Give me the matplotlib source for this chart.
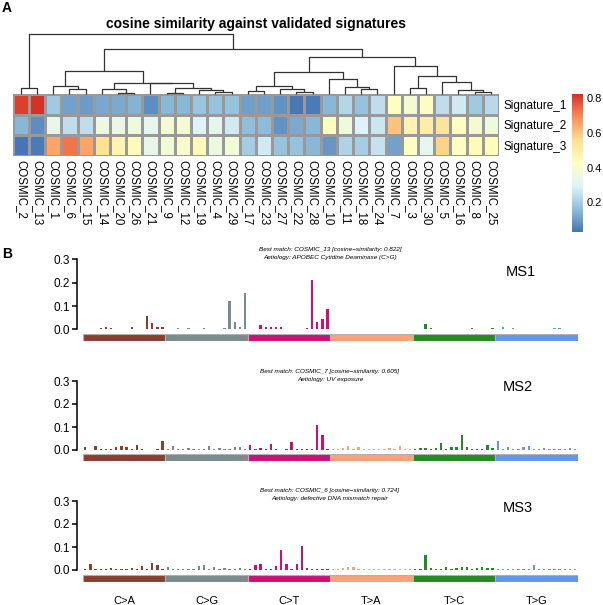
import numpy as np
import matplotlib
matplotlib.use('Agg')
import matplotlib.pyplot as plt
from matplotlib.colors import LinearSegmentedColormap

plt.rcParams['font.family'] = ['Liberation Sans', 'DejaVu Sans']

# ---- panel A data: cosine similarity against COSMIC signatures
cosmic = ['COSMIC_2', 'COSMIC_13', 'COSMIC_1', 'COSMIC_6', 'COSMIC_15', 'COSMIC_14',
          'COSMIC_20', 'COSMIC_26', 'COSMIC_21', 'COSMIC_9', 'COSMIC_12', 'COSMIC_19',
          'COSMIC_4', 'COSMIC_29', 'COSMIC_17', 'COSMIC_23', 'COSMIC_27', 'COSMIC_22',
          'COSMIC_28', 'COSMIC_10', 'COSMIC_11', 'COSMIC_18', 'COSMIC_24', 'COSMIC_7',
          'COSMIC_3', 'COSMIC_30', 'COSMIC_5', 'COSMIC_16', 'COSMIC_8', 'COSMIC_25']
sig_names = ['Signature_1', 'Signature_2', 'Signature_3']
sig1 = [0.80, 0.822, 0.19, 0.11, 0.10, 0.12, 0.125, 0.14, 0.075, 0.15, 0.15, 0.18,
        0.175, 0.175, 0.105, 0.105, 0.08, 0.035, 0.04, 0.15, 0.22, 0.17, 0.24, 0.42,
        0.38, 0.41, 0.24, 0.27, 0.19, 0.23]
sig2 = [0.15, 0.075, 0.33, 0.24, 0.24, 0.35, 0.34, 0.36, 0.32, 0.38, 0.38, 0.29,
        0.32, 0.27, 0.16, 0.155, 0.08, 0.125, 0.15, 0.43, 0.36, 0.29, 0.26, 0.605,
        0.47, 0.50, 0.54, 0.42, 0.38, 0.36]
sig3 = [0.03, 0.04, 0.65, 0.724, 0.65, 0.55, 0.47, 0.45, 0.33, 0.37, 0.39, 0.45,
        0.35, 0.37, 0.195, 0.27, 0.175, 0.17, 0.15, 0.09, 0.21, 0.20, 0.25, 0.11,
        0.42, 0.32, 0.58, 0.42, 0.45, 0.44]

# column dendrogram: (left, right, height)
tree = (('COSMIC_2', 'COSMIC_13', 6),
        ((('COSMIC_1', ('COSMIC_6', 'COSMIC_15', 4.7), 8),
          (('COSMIC_14', ('COSMIC_20', 'COSMIC_26', 1.3), 4.7),
           ('COSMIC_21', (('COSMIC_9', 'COSMIC_12', 1.3),
                          ('COSMIC_19', ('COSMIC_4', 'COSMIC_29', 2.5), 4.5), 6.3), 10.7),
           11.3),
          23.5),
         (((('COSMIC_17', 'COSMIC_23', 3.3), ('COSMIC_27', ('COSMIC_22', 'COSMIC_28', 2.3), 4.7), 8),
           ('COSMIC_10', ('COSMIC_11', ('COSMIC_18', 'COSMIC_24', 5), 7.3), 15),
           22.3),
          ('COSMIC_7', (('COSMIC_3', 'COSMIC_30', 6.3),
                        ('COSMIC_5', ('COSMIC_16', ('COSMIC_8', 'COSMIC_25', 1.7), 4), 12.3), 18), 28),
          36.7),
         44.7),
        60)

# ---- panel B data: 96 trinucleotide channels per signature
sub_types = ['C>A', 'C>G', 'C>T', 'T>A', 'T>C', 'T>G']
sub_colors = ['#8B3E2F', '#7A8B8B', '#CD1076', '#FFA07A', '#228B22', '#6495ED']
ms_names = ['MS1', 'MS2', 'MS3']
ms_match = ['Best match: COSMIC_13 [cosine\u2212similarity: 0.822]',
            'Best match: COSMIC_7 [cosine\u2212similarity: 0.605]',
            'Best match: COSMIC_6 [cosine\u2212similarity: 0.724]']
ms_aetiology = ['Aetiology: APOBEC Cytidine Deaminase (C>G)',
                'Aetiology: UV exposure',
                'Aetiology: defective DNA mismatch repair']
ms1 = [0.002, 0.002, 0.002, 0.004, 0.010, 0.006, 0.002, 0.002, 0.002, 0.012, 0.002, 0.002, 0.056, 0.028, 0.010, 0.012,
       0.002, 0.002, 0.006, 0.002, 0.005, 0.002, 0.002, 0.005, 0.002, 0.002, 0.002, 0.004, 0.122, 0.033, 0.010, 0.158,
       0.003, 0.002, 0.018, 0.010, 0.010, 0.008, 0.012, 0.003, 0.002, 0.002, 0.002, 0.005, 0.210, 0.030, 0.045, 0.088,
       0.002, 0.002, 0.002, 0.002, 0.002, 0.002, 0.002, 0.003, 0.002, 0.002, 0.002, 0.003, 0.002, 0.002, 0.002, 0.002,
       0.002, 0.002, 0.022, 0.004, 0.002, 0.002, 0.002, 0.003, 0.003, 0.002, 0.002, 0.004, 0.002, 0.002, 0.002, 0.004,
       0.002, 0.008, 0.002, 0.004, 0.003, 0.003, 0.002, 0.002, 0.002, 0.002, 0.002, 0.004, 0.004, 0.002, 0.003, 0.002]
ms2 = [0.013, 0.002, 0.016, 0.003, 0.003, 0.003, 0.012, 0.016, 0.013, 0.003, 0.020, 0.003, 0.002, 0.002, 0.003, 0.041,
       0.003, 0.018, 0.005, 0.006, 0.010, 0.004, 0.003, 0.003, 0.018, 0.006, 0.008, 0.004, 0.003, 0.011, 0.011, 0.003,
       0.022, 0.003, 0.010, 0.003, 0.027, 0.003, 0.002, 0.003, 0.035, 0.003, 0.003, 0.003, 0.003, 0.110, 0.067, 0.003,
       0.003, 0.005, 0.010, 0.018, 0.003, 0.015, 0.003, 0.003, 0.003, 0.003, 0.003, 0.008, 0.003, 0.018, 0.006, 0.003,
       0.003, 0.008, 0.008, 0.004, 0.008, 0.030, 0.006, 0.012, 0.014, 0.064, 0.012, 0.004, 0.004, 0.005, 0.020, 0.008,
       0.040, 0.003, 0.012, 0.004, 0.006, 0.012, 0.016, 0.003, 0.005, 0.008, 0.006, 0.004, 0.004, 0.003, 0.010, 0.006]
ms3 = [0.003, 0.024, 0.004, 0.006, 0.004, 0.010, 0.004, 0.003, 0.003, 0.008, 0.006, 0.018, 0.004, 0.030, 0.022, 0.003,
       0.014, 0.003, 0.003, 0.003, 0.003, 0.006, 0.017, 0.020, 0.003, 0.015, 0.003, 0.008, 0.003, 0.003, 0.008, 0.003,
       0.003, 0.020, 0.025, 0.003, 0.003, 0.018, 0.087, 0.024, 0.003, 0.027, 0.103, 0.008, 0.003, 0.003, 0.003, 0.003,
       0.006, 0.003, 0.010, 0.015, 0.015, 0.004, 0.003, 0.006, 0.003, 0.006, 0.006, 0.003, 0.005, 0.003, 0.006, 0.003,
       0.004, 0.003, 0.064, 0.008, 0.004, 0.004, 0.014, 0.004, 0.010, 0.012, 0.014, 0.004, 0.010, 0.012, 0.010, 0.008,
       0.004, 0.003, 0.004, 0.006, 0.003, 0.003, 0.003, 0.020, 0.004, 0.003, 0.003, 0.003, 0.003, 0.003, 0.003, 0.003]

W, H = 603, 605


def rect(x0, y0, x1, y1):
    # pixel box (top-left origin) -> figure fraction
    return [x0 / W, 1 - y1 / H, (x1 - x0) / W, (y1 - y0) / H]


fig = plt.figure(figsize=(W / 100, H / 100), dpi=100)

# ---------------- panel A ----------------
sim = np.array([sig1, sig2, sig3])
cmap = LinearSegmentedColormap.from_list(
    'rdylbu', ['#4575B4', '#91BFDB', '#E0F3F8', '#FFFFBF', '#FEE090', '#FC8D59', '#D73027'])

hax = fig.add_axes(rect(12.7, 94, 499, 156))
mesh = hax.pcolormesh(np.arange(len(cosmic) + 1), np.arange(4), sim, cmap=cmap,
                      vmin=sim.min(), vmax=sim.max(), edgecolors='#999999', linewidth=0.8)
hax.set_xlim(0, len(cosmic))
hax.set_ylim(3, 0)
hax.set_xticks(np.arange(len(cosmic)) + 0.5, cosmic, rotation=270, fontsize=8.3)
hax.yaxis.tick_right()
hax.set_yticks(np.arange(3) + 0.5, sig_names, fontsize=8.5)
hax.tick_params(length=0, pad=3)
for s in hax.spines.values():
    s.set_visible(False)

dax = fig.add_axes(rect(12.7, 34, 499, 94))
dax.set_xlim(0, len(cosmic))
dax.set_ylim(0, 60)
dax.axis('off')


def draw(node):
    if isinstance(node, str):
        return cosmic.index(node) + 0.5, 0
    xl, hl = draw(node[0])
    xr, hr = draw(node[1])
    h = node[2]
    kw = dict(color='#333333', lw=0.9, clip_on=False, solid_capstyle='butt')
    dax.plot([xl, xl, xr, xr], [hl, h, h, hr], **kw)
    return (xl + xr) / 2, h


draw(tree)

cax = fig.add_axes(rect(571.7, 94, 582.7, 232))
cb = fig.colorbar(mesh, cax=cax, ticks=[0.2, 0.4, 0.6, 0.8])
cb.outline.set_visible(False)
cax.tick_params(length=0, labelsize=8, pad=2.5)

fig.text(255.8 / W, 1 - 24 / H, 'cosine similarity against validated signatures',
         ha='center', va='center', fontsize=10, fontweight='bold')
fig.text(2 / W, 1 - 8 / H, 'A', fontsize=10, fontweight='bold', va='center')
fig.text(2 / W, 1 - 254 / H, 'B', fontsize=10, fontweight='bold', va='center')

# ---------------- panel B ----------------
ms_vals = [ms1, ms2, ms3]
ax_top = [259.5, 381, 501]
ax_bot = [329.3, 450, 570]
strip = [(334, 341), (454.3, 461), (575, 581.7)]
match_y = [249.3, 371, 490.7]
name_pos = [(521, 271.7), (518, 386.7), (518, 508.3)]
bar_colors = np.repeat(sub_colors, 16)

for k in range(3):
    ax = fig.add_axes(rect(82.7, ax_top[k], 577.7, ax_bot[k]))
    ax.bar(np.arange(96), ms_vals[k], width=0.45, color=bar_colors)
    ax.set_xlim(-0.5, 95.5)
    ax.set_ylim(0, 0.3)
    for side in ['top', 'right', 'bottom']:
        ax.spines[side].set_visible(False)
    ax.spines['left'].set_position(('outward', 4))
    ax.spines['left'].set_linewidth(1.1)
    ax.set_xticks([])
    ax.set_yticks([0, 0.1, 0.2, 0.3], ['0.0', '0.1', '0.2', '0.3'])
    ax.tick_params(axis='y', length=3.4, width=1.1, pad=1.5, labelsize=8.5)

    sax = fig.add_axes(rect(82.7, strip[k][0], 577.7, strip[k][1]))
    sax.bar(np.arange(6) * 16 + 7.5, 1, width=16, color=sub_colors,
            edgecolor='#B0B0B0', linewidth=0.8)
    sax.set_xlim(-0.5, 95.5)
    sax.set_ylim(0, 1)
    sax.axis('off')

    fig.text(330 / W, 1 - match_y[k] / H, ms_match[k], ha='center', va='center',
             fontsize=4.6, style='italic')
    fig.text(330 / W, 1 - (match_y[k] + 8) / H, ms_aetiology[k], ha='center', va='center',
             fontsize=4.6, style='italic')
    fig.text(name_pos[k][0] / W, 1 - name_pos[k][1] / H, ms_names[k], ha='center',
             va='center', fontsize=10.5)

for i, t in enumerate(sub_types):
    fig.text((82.7 + 495 / 6 * (i + 0.5)) / W, 1 - 601 / H, t, ha='center',
             va='center', fontsize=8)

fig.savefig('out.png', dpi=100)
